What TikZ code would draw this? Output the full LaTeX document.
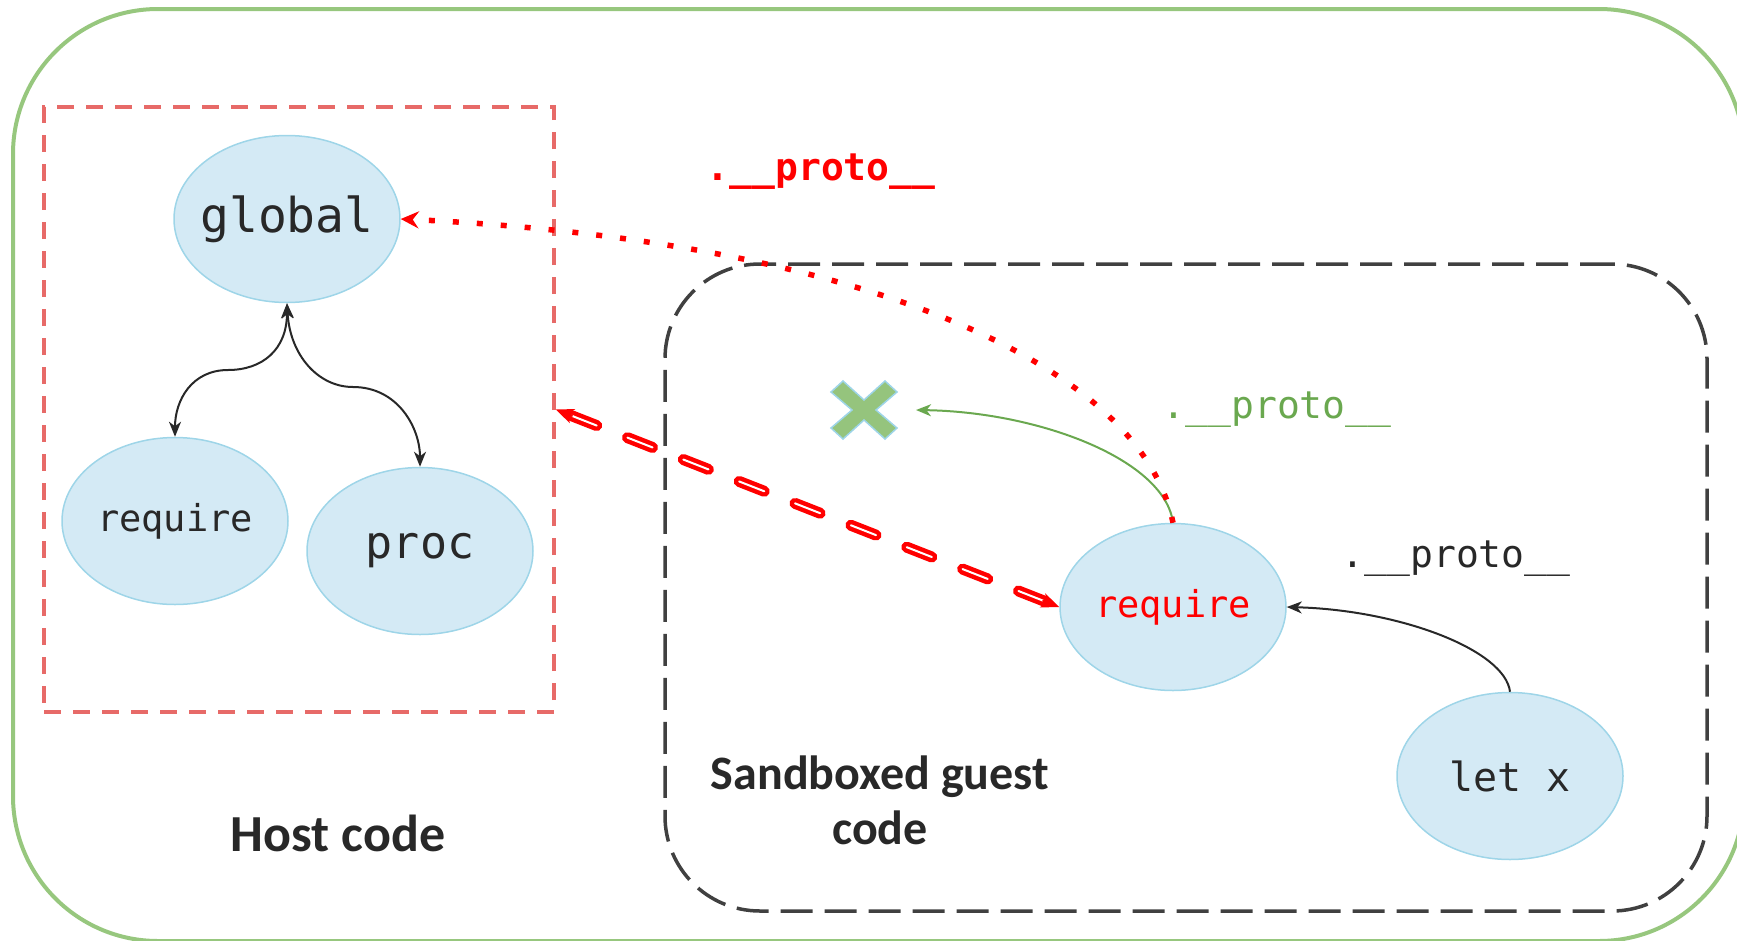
\documentclass[tikz,border=0pt]{standalone}
\usepackage{fontspec}
\usetikzlibrary{arrows.meta,shapes.geometric,calc}
\newfontfamily\monofont{DejaVu Sans Mono}
\newfontfamily\labelfont{Carlito}
\definecolor{outergreen}{RGB}{151,199,126}
\definecolor{hostred}{RGB}{231,106,104}
\definecolor{boxgray}{RGB}{64,64,64}
\definecolor{nodefill}{RGB}{212,234,245}
\definecolor{nodeline}{RGB}{158,213,232}
\definecolor{textdark}{RGB}{40,40,40}
\definecolor{protogreen}{RGB}{106,168,79}
\definecolor{xgreen}{RGB}{149,196,125}
\definecolor{linkred}{RGB}{255,0,0}
\newcommand{\zw}[1]{\makebox[0pt][c]{#1}}
\begin{document}
\begin{tikzpicture}[x=1pt,y=-1pt,
  obj/.style={ellipse, draw=nodeline, fill=nodefill, line width=1.5pt,
    minimum width=226pt, minimum height=167pt, inner sep=0pt, text=textdark},
  mono/.style={font={\monofont\fontsize{#1}{#1}\selectfont}},
  bigtitle/.style={font={\labelfont\bfseries\fontsize{#1}{55}\selectfont}, text=textdark, inner sep=0pt, align=center},
  protolabel/.style={inner sep=0pt, anchor=base},
  blackarrow/.style={draw=textdark, line width=2pt, {Stealth[length=15pt,width=12pt,inset=4.5pt]}-{Stealth[length=15pt,width=12pt,inset=4.5pt]}},
  onearrow/.style={line width=2pt, -{Stealth[length=15pt,width=12pt,inset=4.5pt]}},
  redlinkouter/.style={draw=linkred, line width=11pt, dash pattern=on 27pt off 33pt, line cap=round, shorten <=17pt, shorten >=17pt},
  redlinkinner/.style={draw=white, line width=2pt, dash pattern=on 27pt off 33pt, line cap=round, shorten <=17pt, shorten >=17pt},
  redtip/.style={draw=linkred, fill=linkred, line width=2pt, -{Stealth[length=18pt,width=15pt,inset=5pt]}},
  dottedred/.style={draw=linkred, line width=5.5pt, dash pattern=on 6pt off 18pt, -{Stealth[length=18pt,width=17pt,inset=6pt]}}
]
\clip (0,0) rectangle (1737,940);
\useasboundingbox (0,0) rectangle (1737,940);

% containers
\node[draw=outergreen, line width=4pt, rounded corners=145pt, minimum width=1731pt, minimum height=932pt, inner sep=0pt] (outer) at (878.5,475) {};
\node[draw=hostred, line width=3.5pt, dash pattern=on 17pt off 12pt, minimum width=510pt, minimum height=605pt, inner sep=0pt] (host) at (299,409.5) {};
\node[draw=boxgray, line width=3.5pt, dash pattern=on 32pt off 12pt, rounded corners=95pt, minimum width=1042pt, minimum height=647pt, inner sep=0pt] (sandbox) at (1186,587.5) {};

% objects
\node[obj, mono=48] (global) at (287,219) {\zw{global}};
\node[obj, mono=37] (hreq) at (175,521) {\zw{require}};
\node[obj, mono=45] (proc) at (420,551) {\zw{proc}};
\node[obj, mono=37, text=linkred] (greq) at (1173,607) {\zw{require}};
\node[obj, mono=40] (letx) at (1510,776) {\zw{let x}};

% cross mark
\coordinate (xc) at (864,410);
\draw[draw=nodeline, fill=xgreen, line width=1.5pt]
  ($(xc)+(-33,-18)$) -- ($(xc)+(-21,-29)$) -- ($(xc)+(0,-10)$) -- ($(xc)+(21,-29)$) -- ($(xc)+(33,-18)$) --
  ($(xc)+(12,0)$) -- ($(xc)+(33,18)$) -- ($(xc)+(21,29)$) -- ($(xc)+(0,10)$) -- ($(xc)+(-21,29)$) --
  ($(xc)+(-33,18)$) -- ($(xc)+(-12,0)$) -- cycle;
\coordinate (xr) at (916,410);

% labels
\node[bigtitle=52, anchor=base] (hostlbl) at (338,851) {Host code};
\node[bigtitle=48, anchor=base] (guestlbl) at (880,844) {Sandboxed guest\\code};
\node[protolabel, text=linkred, font={\monofont\bfseries\fontsize{38}{38}\selectfont}] (protored) at (821,180) {.\_\_proto\_\_};
\node[protolabel, mono=38, text=protogreen] (protogreen) at (1277,418) {.\_\_proto\_\_};
\node[protolabel, mono=38, text=textdark] (protoblack) at (1456,567) {.\_\_proto\_\_};

% host connectors
\draw[blackarrow] (global.south) .. controls (287,350) and (262,370) .. (228,370)
  .. controls (192,370) and (175,400) .. (hreq.north);
\draw[blackarrow] (global.south) .. controls (290,355) and (318,387) .. (353,387)
  .. controls (398,387) and (420,428) .. (proc.north);

% guest connectors
\draw[onearrow, draw=textdark] (letx.north) .. controls (1505,650) and (1400,610) .. (greq.east);
\draw[onearrow, draw=protogreen] (greq.north) .. controls (1165,460) and (1040,412) .. (xr);

% red dotted prototype link
\draw[dottedred] (greq.north) .. controls (1140,360) and (850,240) .. (global.east);

% red double link
\draw[redlinkouter] (host.east) -- (greq.west);
\draw[redlinkinner] (host.east) -- (greq.west);
\draw[redtip] ($(host.east)!18pt!(greq.west)$) -- (host.east);
\draw[redtip] ($(greq.west)!18pt!(host.east)$) -- (greq.west);
\end{tikzpicture}
\end{document}
